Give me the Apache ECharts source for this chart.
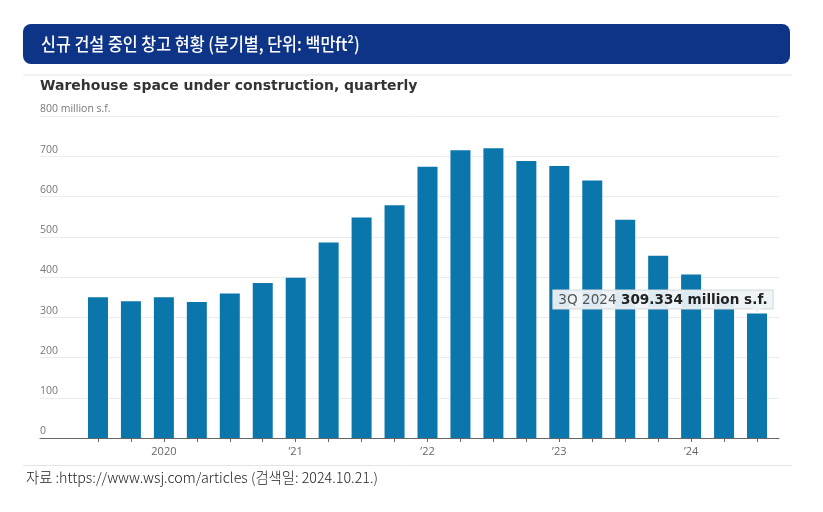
<!DOCTYPE html>
<html>
<head>
<meta charset="utf-8">
<script src="https://cdn.jsdelivr.net/npm/echarts@6/dist/echarts.min.js"></script>
<style>
  html, body { margin: 0; padding: 0; background: #fff; }
  #chart { width: 823px; height: 512px; }
</style>
</head>
<body>
<div id="chart"></div>
<script>
// quarterly warehouse space under construction, million s.f.
var quarters = ['3Q 2019', '4Q 2019',
  '1Q 2020', '2Q 2020', '3Q 2020', '4Q 2020',
  '1Q 2021', '2Q 2021', '3Q 2021', '4Q 2021',
  '1Q 2022', '2Q 2022', '3Q 2022', '4Q 2022',
  '1Q 2023', '2Q 2023', '3Q 2023', '4Q 2023',
  '1Q 2024', '2Q 2024', '3Q 2024'];
var space = [350, 340, 350, 338, 359, 385, 398, 486, 548, 578,
  674, 715, 720, 688, 676, 640, 542, 453, 406, 345, 309.334];
var yearLabels = { '1Q 2020': '2020', '1Q 2021': '\u201921', '1Q 2022': '\u201922',
  '1Q 2023': '\u201923', '1Q 2024': '\u201924' };
var yTicks = [0, 100, 200, 300, 400, 500, 600, 700, 800];

var titleText = '신규 건설 중인 창고 현황 (분기별, 단위: 백만ft²)';
var subTitle = 'Warehouse space under construction, quarterly';
var sourceText = '자료 :https://www.wsj.com/articles (검색일: 2024.10.21.)';

var last = space.length - 1;
var barData = space.map(function (v, i) {
  if (i !== last) return v;
  return {
    value: v,
    label: {
      show: true,
      position: 'top',
      distance: 5,
      offset: [-94, 0],
      formatter: '{a|' + quarters[i] + ' }{b|' + v + ' million s.f.}',
      backgroundColor: 'rgba(238,243,246,0.93)',
      borderColor: '#d6dade',
      borderWidth: 1,
      padding: [1, 5, 0, 5],
      rich: {
        a: { fontFamily: 'DejaVu Sans', fontSize: 13.6, color: '#555', lineHeight: 17 },
        b: { fontFamily: 'DejaVu Sans', fontSize: 13.6, fontWeight: 'bold', color: '#222', lineHeight: 17 }
      }
    }
  };
});

var chart = echarts.init(document.getElementById('chart'));

chart.setOption({
  animation: false,
  backgroundColor: '#fff',
  graphic: [
    { type: 'rect', shape: { x: 23, y: 24, width: 767, height: 40, r: 8 },
      style: { fill: '#0e3488' } },
    { type: 'text', x: 41, y: 44, scaleX: 0.9,
      style: { text: titleText, fill: '#fff', fontFamily: 'Noto Sans CJK KR',
        fontSize: 18, fontWeight: 500, verticalAlign: 'middle' } },
    { type: 'line', shape: { x1: 23, y1: 75, x2: 792, y2: 75 },
      style: { stroke: '#e4e4e4', lineWidth: 1 } },
    { type: 'text', x: 40, y: 86,
      style: { text: subTitle, fill: '#333', fontFamily: 'DejaVu Sans',
        fontSize: 14, fontWeight: 'bold', verticalAlign: 'middle' } },
    { type: 'line', shape: { x1: 23, y1: 465.5, x2: 792, y2: 465.5 },
      style: { stroke: '#e4e4e4', lineWidth: 1 } },
    { type: 'text', x: 26, y: 478,
      style: { text: sourceText, fill: '#222', fontFamily: 'Noto Sans CJK KR',
        fontSize: 14.3, fontWeight: 300, verticalAlign: 'middle' } }
  ],
  grid: [
    { left: 40, right: 44, top: 116, bottom: 74 },
    { left: 81.5, right: 49.5, top: 116, bottom: 74 }
  ],
  xAxis: [
    {
      gridIndex: 0, type: 'value', min: 0, max: 1,
      axisLine: { show: true, lineStyle: { color: '#666', width: 1 } },
      axisTick: { show: false }, axisLabel: { show: false }, splitLine: { show: false }
    },
    {
      gridIndex: 1, type: 'category', data: quarters,
      axisLine: { show: false },
      axisTick: { show: true, alignWithLabel: true, interval: 0, length: 4,
        lineStyle: { color: '#666' } },
      axisLabel: {
        interval: 0, margin: 8, color: '#666', fontFamily: 'Open Sans', fontSize: 11,
        formatter: function (q) { return yearLabels[q] || ''; }
      }
    }
  ],
  yAxis: [
    {
      gridIndex: 0, type: 'value', min: yTicks[0], max: yTicks[yTicks.length - 1], interval: 100,
      axisLine: { show: false }, axisTick: { show: false },
      splitLine: { show: true, lineStyle: { color: '#ececec', width: 1 } },
      axisLabel: {
        inside: true, align: 'left', verticalAlign: 'bottom', margin: 0,
        padding: [0, 0, 1, 0], color: '#777', fontFamily: 'Open Sans', fontSize: 10.5,
        showMinLabel: true, showMaxLabel: true,
        formatter: function (v) { return v === 800 ? '800 million s.f.' : String(v); }
      }
    },
    {
      gridIndex: 1, type: 'value', min: yTicks[0], max: yTicks[yTicks.length - 1],
      show: false
    }
  ],
  series: [
    {
      type: 'bar', xAxisIndex: 1, yAxisIndex: 1,
      data: barData,
      barWidth: 20,
      itemStyle: { color: '#0b76ab' },
      markPoint: {
        silent: true,
        symbol: 'path://M0,0L10,0L5,5Z',
        symbolSize: [10, 5],
        symbolOffset: [0, -3],
        itemStyle: { color: 'rgba(238,243,246,0.95)' },
        label: { show: false },
        data: [{ coord: [quarters[last], space[last]] }]
      }
    }
  ]
});
</script>
</body>
</html>
